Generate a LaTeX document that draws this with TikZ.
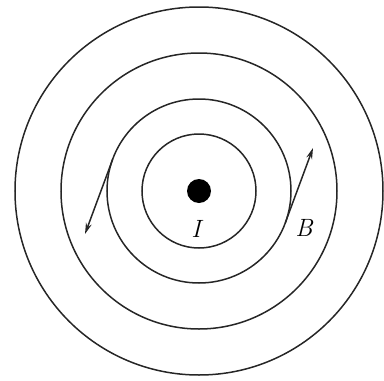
\documentclass[tikz,border=0pt]{standalone}
\usetikzlibrary{arrows.meta}
\begin{document}
\begin{tikzpicture}[x=1pt,y=-1pt,
  ring/.style={draw=black!85, line width=1.5pt},
  field/.style={draw=black!85, line width=1.5pt, -{Stealth[length=11pt,width=6pt]}},
  lbl/.style={font=\fontsize{25}{30}\selectfont\itshape, inner sep=0pt}]
\useasboundingbox (0,0) rectangle (384,381);
\coordinate (c) at (199,191);
\draw[ring] (c) circle[radius=184];
\draw[ring] (c) circle[radius=138];
\draw[ring] (c) circle[radius=92];
\draw[ring] (c) circle[radius=57];
\node[circle, fill=black, minimum size=24pt, inner sep=0pt] (dot) at (c) {};
\coordinate (tl) at (112.7,159.2);
\coordinate (hl) at (85,234);
\coordinate (tr) at (285.3,222.8);
\coordinate (hr) at (313,148);
\draw[field] (tl) -- (hl);
\draw[field] (tr) -- (hr);
\node[lbl] (I) at (196,229) {I};
\node[lbl] (B) at (304,228) {B};
\end{tikzpicture}
\end{document}
